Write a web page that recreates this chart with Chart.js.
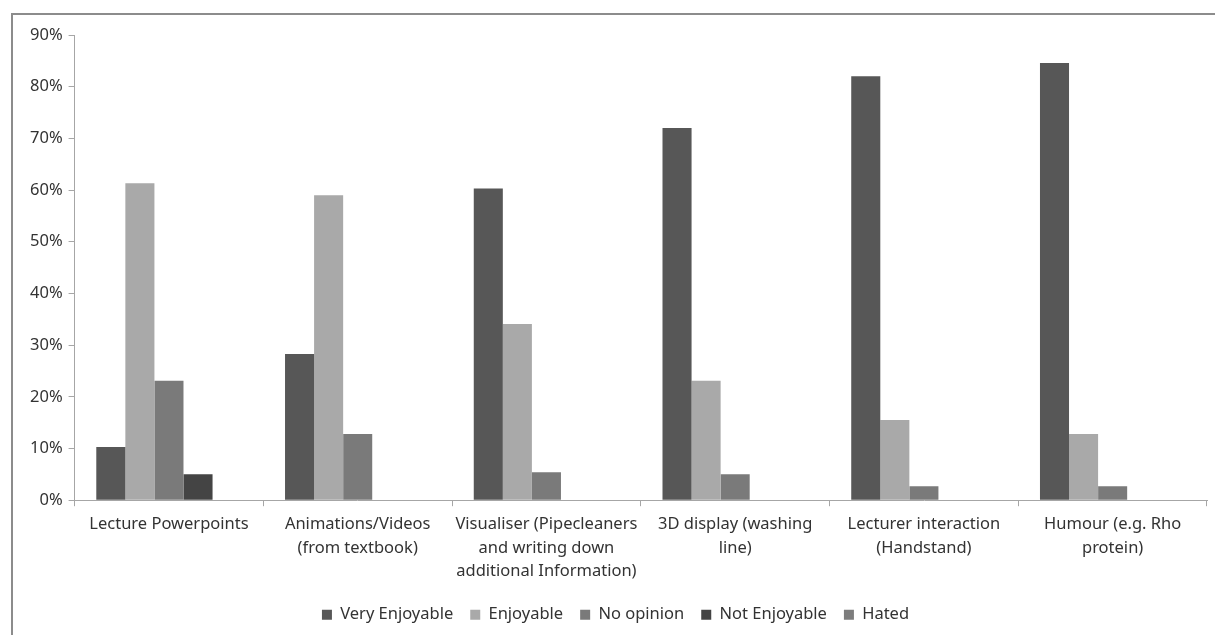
<!DOCTYPE html>
<html>
<head>
<meta charset="utf-8">
<script src="https://cdn.jsdelivr.net/npm/chart.js@4"></script>
<style>
  html, body { margin: 0; padding: 0; background: #fff; overflow: hidden; }
  #wrap { position: relative; width: 1215px; height: 635px; }
  #frame { position: absolute; left: 11px; top: 13px; width: 1300px; height: 700px; border: 2px solid #8c8c8c; box-sizing: border-box; }
  canvas { position: absolute; left: 0; top: 0; }
</style>
</head>
<body>
<div id="wrap">
  <div id="frame"></div>
  <canvas id="myChart" width="1215" height="635"></canvas>
</div>
<script>
// categories (wrapped like the original)
const categories = [
  ['Lecture Powerpoints'],
  ['Animations/Videos', '(from textbook)'],
  ['Visualiser (Pipecleaners', 'and writing down', 'additional Information)'],
  ['3D display (washing', 'line)'],
  ['Lecturer interaction', '(Handstand)'],
  ['Humour (e.g. Rho', 'protein)']
];
const seriesNames = ['Very Enjoyable', 'Enjoyable', 'No opinion', 'Not Enjoyable', 'Hated'];

// percentages
const veryEnjoyable = [10.3, 28.3, 60.3, 72.0, 82.0, 84.6];
const enjoyable     = [61.3, 59.0, 34.1, 23.1, 15.5, 12.8];
const noOpinion     = [23.1, 12.8, 5.4, 5.0, 2.7, 2.7];
const notEnjoyable  = [5.0, 0, 0, 0, 0, 0];
const hated         = [0, 0, 0, 0, 0, 0];

const yTicks = [0, 10, 20, 30, 40, 50, 60, 70, 80, 90];
const colors = ['#575757', '#a9a9a9', '#7a7a7a', '#444444', '#7d7d7d'];

const ctx = document.getElementById('myChart');
const allSeries = [veryEnjoyable, enjoyable, noOpinion, notEnjoyable, hated];
const font = { family: 'Noto Sans', size: 16.5 };

new Chart(ctx, {
  type: 'bar',
  data: {
    labels: categories,
    datasets: allSeries.map((d, i) => ({
      label: seriesNames[i],
      data: d,
      backgroundColor: colors[i],
      borderWidth: 0,
      barPercentage: 1,
      categoryPercentage: 0.77
    }))
  },
  options: {
    responsive: false,
    animation: false,
    layout: { padding: { left: 24, right: 8, top: 35, bottom: 2 } },
    plugins: {
      tooltip: { enabled: false },
      legend: {
        position: 'bottom',
        labels: {
          boxWidth: 10,
          boxHeight: 10,
          padding: 17,
          color: '#333',
          font: font
        }
      }
    },
    scales: {
      x: {
        grid: {
          offset: true,
          drawOnChartArea: false,
          color: '#a6a6a6',
          tickLength: 6
        },
        border: { color: '#a6a6a6' },
        ticks: {
          color: '#333',
          maxRotation: 0,
          autoSkip: false,
          padding: 7,
          font: { family: 'Noto Sans', size: 16.5, lineHeight: 1.4 }
        }
      },
      y: {
        min: 0,
        max: 90,
        afterBuildTicks: axis => { axis.ticks = yTicks.map(v => ({ value: v })); },
        grid: {
          drawOnChartArea: false,
          color: '#a6a6a6',
          tickLength: 6
        },
        border: { color: '#a6a6a6' },
        ticks: {
          color: '#333',
          padding: 6,
          font: font,
          callback: function(value) {
            return value + '%';
          }
        }
      }
    }
  }
});
</script>
</body>
</html>
